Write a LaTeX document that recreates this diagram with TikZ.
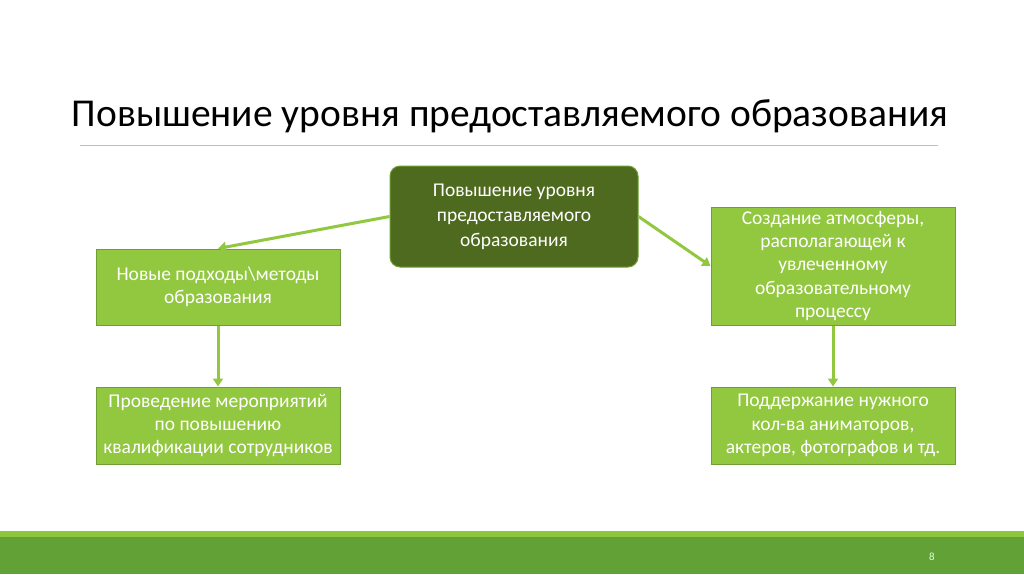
\documentclass[tikz,border=0pt]{standalone}
\usepackage{fontspec}
\setmainfont{Carlito}
\usetikzlibrary{arrows.meta}
\definecolor{lgreen}{HTML}{92C740}
\definecolor{lborder}{HTML}{6E9E34}
\definecolor{dgreen}{HTML}{4E6A1E}
\definecolor{dborder}{HTML}{6E9E34}
\definecolor{footdark}{HTML}{62A136}
\definecolor{footlight}{HTML}{8DC63F}
\definecolor{arrowc}{HTML}{92C740}
\tikzset{
  box/.style={draw=lborder, line width=1pt, fill=lgreen, text=white, align=center,
    minimum width=244pt, inner sep=1pt, font={\fontsize{19.5}{23.2}\selectfont}},
  mainbox/.style={draw=dborder, line width=1pt, fill=dgreen, text=white, align=center,
    rounded corners=10pt, minimum width=248pt, minimum height=101pt, font={\fontsize{19.5}{25}\selectfont}},
  conn/.style={draw=arrowc, line width=3pt, -{Triangle[length=8pt,width=10pt]}}
}
\begin{document}
\begin{tikzpicture}[x=1pt,y=-1pt]
\useasboundingbox (0,0) rectangle (1024,574);
\fill[white] (0,0) rectangle (1024,574);
% footer
\fill[footlight] (0,531) rectangle (1024,537);
\fill[footdark] (0,537) rectangle (1024,574);
\node[text=white!85!green, font={\fontsize{11}{12}\selectfont}] (pg) at (932,557) {8};
% title
\node[font={\fontsize{39.5}{46}\selectfont}, text=black] (title) at (510,116) {Повышение уровня предоставляемого образования};
\draw[black!25, line width=0.8pt] (80,145) -- (938,145);
% boxes
\node[mainbox] (c) at (514,216.5) {Повышение уровня\\предоставляемого\\образования};
\node[box, minimum height=76pt] (l1) at (218,287) {Новые подходы\textbackslash методы\\образования};
\node[box, minimum height=77pt] (l2) at (218,425.5) {Проведение мероприятий\\по повышению\\квалификации сотрудников};
\node[box, minimum height=118pt] (r1) at (833,266) {Создание атмосферы,\\располагающей к\\увлеченному\\образовательному\\процессу};
\node[box, minimum height=77pt] (r2) at (833,425.5) {Поддержание нужного\\кол-ва аниматоров,\\актеров, фотографов и тд.};
% connectors
\draw[conn] (c.west) -- (l1.north);
\draw[conn] (c.east) -- (r1.west);
\draw[conn] (l1.south) -- (l2.north);
\draw[conn] (r1.south) -- (r2.north);
\end{tikzpicture}
\end{document}
